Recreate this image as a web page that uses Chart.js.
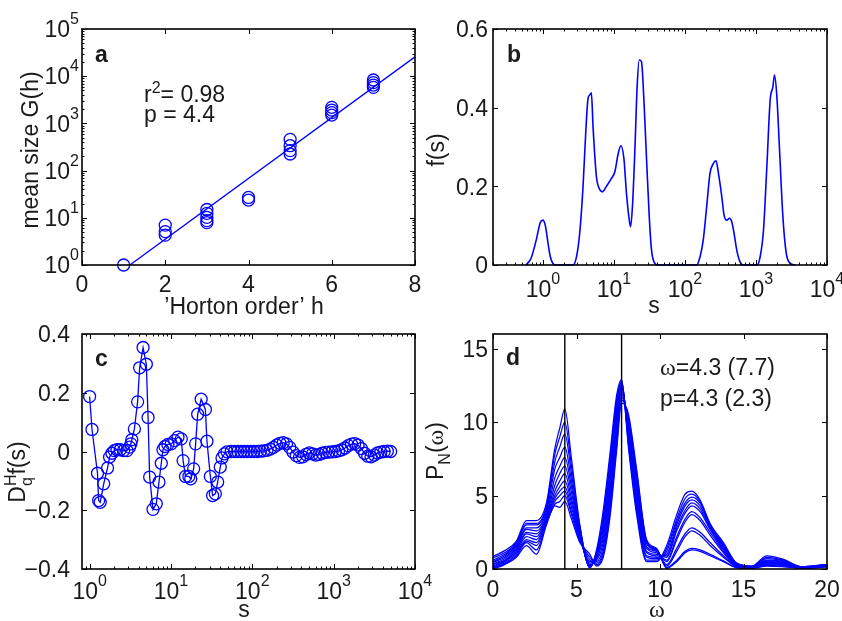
<!DOCTYPE html>
<html><head><meta charset="utf-8">
<script src="https://cdn.jsdelivr.net/npm/chart.js@4"></script>
<style>
html,body{margin:0;padding:0;background:#fff;}
.wrap{position:relative;width:842px;height:621px;overflow:hidden;}
canvas{position:absolute;left:0;top:0;}
</style>
</head><body>
<div class="wrap">
<canvas id="ca" width="842" height="621"></canvas>
<canvas id="cb" width="842" height="621"></canvas>
<canvas id="cc" width="842" height="621"></canvas>
<canvas id="cd" width="842" height="621"></canvas>
</div>
<script>
// ---------------- DATA ----------------
// Panel a: mean size G(h) vs Horton order h
const hOrder   = [1, 2,2,2, 3,3,3,3,3, 4,4, 5,5,5,5, 6,6,6,6, 7,7,7,7];
const meanSize = [1, 7.0,5.1,4.3, 15,12.4,10.2,8.7,7.9, 27,23.8, 459,337,265,225, 2190,1920,1690,1500, 8300,7300,6500,5800];
const fitH = [1.15, 8];
const fitG = [1, 25700];
const aXTicks = [0,2,4,6,8];
const aYTicks = [1,10,100,1000,10000,100000];
const aYExp   = ['0','1','2','3','4','5'];

// Panel b: f(s) vs s
const sB = [0.58,0.68,0.805,0.917,1.0,1.09,1.18,1.27,1.38,1.54,
  2.65,2.96,3.29,3.67,4.0,4.32,4.56,4.81,5.08,5.66,6.18,6.88,7.83,9.22,10.3,11.5,12.5,13.8,15.0,16.2,17.1,18.2,19.7,21.2,22.7,24.4,26.4,28.8,31.4,33.8,37.7,42.0,
  146,163,181,202,225,251,274,296,330,355,388,423,456,492,536,597,666,
  1028,1145,1276,1422,1585,1729,1824,1968,2147,2392,2667,3034,3573];
const fB = [0,0.017,0.064,0.108,0.114,0.097,0.055,0.021,0.004,0,
  0,0.02,0.08,0.2,0.335,0.424,0.432,0.438,0.35,0.225,0.195,0.186,0.2,0.22,0.237,0.284,0.303,0.271,0.182,0.123,0.097,0.148,0.292,0.453,0.521,0.517,0.42,0.267,0.123,0.038,0.004,0,
  0,0.021,0.064,0.148,0.233,0.258,0.265,0.233,0.174,0.127,0.114,0.119,0.11,0.08,0.038,0.008,0,
  0,0.021,0.089,0.25,0.42,0.453,0.483,0.428,0.292,0.123,0.03,0.004,0];
const bXTicks = [1,10,100,1000,10000];
const bXExp   = ['0','1','2','3','4'];
const bYTicks = [0,0.2,0.4,0.6];
const bYLabels = ['0','0.2','0.4','0.6'];

// Panel c: D_q^H f(s) vs s
const sC = [1,1.07,1.25,1.29,1.35,1.49,1.66,1.76,1.88,2.01,2.17,2.38,2.62,2.88,3.1,3.22,3.3,3.55,3.89,4.12,
  4.54,4.98,5.23,5.47,6.01,6.6,7.12,7.6,7.97,8.44,9.18,10.1,11.1,12.2,13.4,14.1,15.1,16.6,17.5,19.0,
  20.1,21.3,23.5,26.5,27.7,30.5,32.5,35.1,37.5,40.4,42.4,45.3,48.8,
  55.0,60.3,66.1,72.4,79.4,87.1,95.5,104.7,114.8,125.9,138.0,151.4,166.0,182.0,199.5,218.8,239.9,263.0,288.4,316.2,
  346.7,380.2,416.9,457.1,501.2,549.5,602.6,660.7,724.4,794.3,871.0,955.0,1047,1148,1259,1380,1514,1660,1820,1995,
  2188,2399,2630,2884,3162,3467,3802,4169,4571,5012];
const dC = [0.187,0.075,-0.074,-0.167,-0.173,-0.11,-0.056,-0.019,-0.006,0.003,0.006,0.006,0.003,0.003,0.015,0.026,0.04,0.077,0.169,0.285,
  0.354,0.297,0.116,-0.087,-0.197,-0.178,-0.104,-0.04,0.006,0.017,0.024,0.026,0.037,0.049,0.043,-0.031,-0.085,-0.085,-0.093,-0.059,
  0.026,0.127,0.178,0.143,0.035,-0.085,-0.15,-0.144,-0.104,-0.053,-0.022,-0.008,-0.001,
  0,0,0,0,0,0,0,0,0,0.001,0.002,0.004,0.008,0.014,0.022,0.028,0.03,0.026,0.014,-0.002,
  -0.014,-0.02,-0.018,-0.01,-0.005,-0.008,-0.012,-0.01,-0.006,-0.003,-0.002,-0.001,0,0.002,0.006,0.012,0.02,0.025,0.027,0.022,
  0.01,-0.006,-0.016,-0.018,-0.012,-0.005,-0.002,0,0.001,0];
const cXTicks = [1,10,100,1000,10000];
const cXExp   = ['0','1','2','3','4'];
const cYTicks = [-0.4,-0.2,0,0.2,0.4];
const cYLabels = ['\u22120.4','\u22120.2','0','0.2','0.4'];

// Panel d: P_N(omega) curves
const omega = [0,0.7,1.4,2.0,2.6,3.2,3.7,4.0,4.3,4.7,5.2,5.8,6.2,6.6,7.0,7.4,7.7,8.1,8.6,9.2,9.8,10.4,11.0,11.5,11.9,12.4,13.0,13.8,14.6,15.5,16.4,17.4,18.5,20];
const pN01 = [0.0,0.3,0.8,1.6,1.0,3.0,4.3,4.2,4.6,3.4,1.8,1.0,0.2,0.8,3.5,8.0,11.3,10.6,6.8,2.0,1.4,0.05,0.5,1.1,1.3,1.2,0.9,0.5,0.1,0.05,0.2,0.15,0.05,0.15];
const pN02 = [0.05,0.35,0.9,1.8,1.3,3.1,4.4,4.6,5.0,3.7,1.9,0.8,0.3,1.0,3.8,8.4,11.5,10.4,6.6,1.9,1.35,0.1,0.6,1.2,1.4,1.3,1.0,0.55,0.1,0.05,0.25,0.2,0.05,0.15];
const pN03 = [0.1,0.4,1.0,1.9,1.6,3.2,4.6,5.0,5.3,3.9,2.0,0.6,0.4,1.2,4.2,8.8,11.7,10.2,6.4,1.8,1.3,0.2,1.2,2.2,2.6,2.3,1.6,0.8,0.15,0.05,0.3,0.25,0.05,0.2];
const pN04 = [0.15,0.5,1.1,2.0,1.8,3.3,4.8,5.3,5.6,4.2,2.1,0.5,0.5,1.5,4.6,9.2,11.9,10.0,6.1,1.7,1.25,0.3,1.4,2.4,2.8,2.5,1.8,0.9,0.15,0.1,0.35,0.3,0.05,0.2];
const pN05 = [0.2,0.55,1.2,2.2,2.0,3.4,5.0,5.6,6.0,4.5,2.2,0.4,0.6,1.8,5.0,9.6,12.1,9.8,5.8,1.5,1.2,0.5,2.0,3.2,3.7,3.3,2.3,1.1,0.2,0.1,0.4,0.3,0.1,0.2];
const pN06 = [0.3,0.6,1.3,2.4,2.2,3.5,5.3,6.0,6.5,4.8,2.3,0.3,0.7,2.1,5.4,10.0,12.3,9.6,5.5,1.4,1.1,0.6,2.2,3.4,3.9,3.5,2.5,1.2,0.2,0.1,0.45,0.35,0.1,0.25];
const pN07 = [0.35,0.7,1.4,2.5,2.4,3.6,5.7,6.5,7.0,5.2,2.4,0.25,0.8,2.4,5.8,10.3,12.4,9.4,5.2,1.2,1.0,0.8,2.6,3.8,4.3,3.9,2.7,1.3,0.25,0.1,0.5,0.4,0.1,0.25];
const pN08 = [0.45,0.8,1.5,2.7,2.6,3.7,6.2,7.0,7.6,5.6,2.5,0.2,0.9,2.7,6.2,10.6,12.5,9.2,4.9,1.1,0.9,0.9,2.8,4.0,4.5,4.1,2.8,1.4,0.25,0.15,0.55,0.45,0.1,0.25];
const pN09 = [0.5,0.9,1.6,2.8,2.8,3.9,6.8,7.6,8.3,6.0,2.6,0.15,1.0,3.0,6.6,10.9,12.6,9.0,4.6,0.9,0.8,1.0,3.0,4.3,4.7,4.3,2.9,1.5,0.3,0.15,0.6,0.5,0.1,0.3];
const pN10 = [0.6,1.0,1.7,3.0,3.0,4.1,7.3,8.3,9.2,6.5,2.8,0.1,1.1,3.3,7.0,11.2,12.7,8.8,4.3,0.8,0.7,1.2,3.2,4.5,4.9,4.5,3.0,1.6,0.3,0.15,0.7,0.55,0.15,0.3];
const pN11 = [0.75,1.1,1.8,3.1,3.1,4.3,7.8,9.0,10.0,7.0,2.9,0.1,1.2,3.6,7.4,11.5,12.8,8.6,4.0,0.6,0.6,1.4,3.4,4.8,5.1,4.6,3.0,1.7,0.35,0.2,0.8,0.6,0.15,0.3];
const pN12 = [0.85,1.25,1.9,3.3,3.3,4.5,8.2,9.6,10.9,7.5,3.0,0.1,1.3,4.0,7.8,11.8,12.9,8.4,3.7,0.5,0.5,1.6,3.7,5.1,5.3,4.7,3.1,1.8,0.4,0.2,0.9,0.65,0.15,0.3];
const peakLines = [4.3, 7.7];
const dXTicks = [0,5,10,15,20];
const dYTicks = [0,5,10,15];

// ---------------- DRAW HELPERS ----------------
const SANS = '"Liberation Sans", Arial, Helvetica, sans-serif';
const SERIF = '"Liberation Serif", "Times New Roman", serif';
const BLUE = '#0000ff';
const TXT = '#1a1a1a';
function fnt(g){ return (g.b?'bold ':'') + (g.s||23) + 'px ' + (g.serif?SERIF:SANS); }
function drawRich(ctx, x, y, segs, align){
  const w = segs.map(g => { ctx.font = fnt(g); return ctx.measureText(g.t).width; });
  const adv = []; let pend = 0;
  segs.forEach((g,i) => { if (g.keep) { pend = w[i]; adv.push(0); } else { adv.push(Math.max(w[i], pend)); pend = 0; } });
  const total = adv.reduce((a,b)=>a+b,0) + pend;
  let cx = align==='center' ? x - total/2 : (align==='right' ? x - total : x);
  ctx.textAlign = 'left'; ctx.textBaseline = 'alphabetic';
  segs.forEach((g,i) => { ctx.font = fnt(g); ctx.fillText(g.t, cx, y + (g.dy||0)); cx += adv[i]; });
}
const expLab = e => [{t:'10'},{t:e, s:16, dy:-13}];
function logMinor(min, max){
  const out = [];
  for (let d = Math.floor(Math.log10(min)); d <= Math.ceil(Math.log10(max)); d++)
    for (let m = 2; m <= 9; m++) { const v = m*Math.pow(10,d); if (v > min && v < max) out.push(v); }
  return out;
}
const framePlugin = {
  id: 'frame',
  afterDraw(chart, args, o){
    const ctx = chart.ctx, a = chart.chartArea, xs = chart.scales.x, ys = chart.scales.y;
    ctx.save();
    ctx.strokeStyle = '#000'; ctx.lineWidth = 1;
    ctx.beginPath();
    const tx = (v, L) => { const p = Math.round(xs.getPixelForValue(v))+0.5; ctx.moveTo(p, a.bottom); ctx.lineTo(p, a.bottom-L); ctx.moveTo(p, a.top); ctx.lineTo(p, a.top+L); };
    const ty = (v, L) => { const p = Math.round(ys.getPixelForValue(v))+0.5; ctx.moveTo(a.left, p); ctx.lineTo(a.left+L, p); ctx.moveTo(a.right, p); ctx.lineTo(a.right-L, p); };
    o.xMajor.forEach(v => tx(v, 5)); (o.xMinor||[]).forEach(v => tx(v, 2.5));
    o.yMajor.forEach(v => ty(v, 5)); (o.yMinor||[]).forEach(v => ty(v, 2.5));
    ctx.stroke();
    ctx.lineWidth = 1.6;
    ctx.strokeRect(a.left, a.top, a.right-a.left, a.bottom-a.top);
    ctx.fillStyle = TXT;
    o.xLabels.forEach(L => drawRich(ctx, xs.getPixelForValue(L.v), o.xLabelY, L.segs, 'center'));
    o.yLabels.forEach(L => drawRich(ctx, o.yLabelX, ys.getPixelForValue(L.v) + 8.2, L.segs, 'right'));
    o.texts.forEach(T => {
      if (T.rot) { ctx.save(); ctx.translate(T.x, T.y); ctx.rotate(-Math.PI/2); drawRich(ctx, 0, 0, T.segs, 'center'); ctx.restore(); }
      else drawRich(ctx, T.x, T.y, T.segs, T.align||'left');
    });
    ctx.restore();
  }
};
Chart.register(framePlugin);
const pts = (xs, ys) => xs.map((x,i) => ({x, y: ys[i]}));
function baseOptions(pad, xScale, yScale, frame){
  return {
    responsive: false, animation: false, devicePixelRatio: 1,
    layout: { padding: pad },
    plugins: { legend: {display:false}, tooltip: {enabled:false}, title: {display:false}, frame },
    scales: { x: Object.assign({display:false}, xScale), y: Object.assign({display:false}, yScale) }
  };
}

// ---------------- PANEL A ----------------
new Chart(document.getElementById('ca'), {
  type: 'scatter',
  data: { datasets: [
    { data: pts(hOrder, meanSize), showLine:false, pointStyle:'circle', pointRadius:6, pointBorderWidth:1.3,
      pointBorderColor:BLUE, pointBackgroundColor:'rgba(0,0,0,0)', clip:false },
    { data: pts(fitH, fitG), showLine:true, borderColor:BLUE, borderWidth:1.3, pointRadius:0, fill:false }
  ]},
  options: baseOptions({left:82, top:29, right:427, bottom:356},
    {type:'linear', min:0, max:8}, {type:'logarithmic', min:1, max:100000},
    { xMajor: aXTicks, yMajor: aYTicks, yMinor: logMinor(1,100000),
      xLabels: aXTicks.map(v => ({v, segs:[{t:String(v)}]})), xLabelY: 292,
      yLabels: aYTicks.map((v,i) => ({v, segs: expLab(aYExp[i])})), yLabelX: 79,
      texts: [
        {x:95, y:62, segs:[{t:'a', b:true}]},
        {x:144, y:102, segs:[{t:'r'},{t:'2', s:16, dy:-9},{t:'= 0.98'}]},
        {x:144, y:122, segs:[{t:'p = 4.4'}]},
        {x:244, y:314, align:'center', segs:[{t:'\u2019Horton order\u2019 h'}]},
        {x:38, y:150, rot:true, segs:[{t:'mean size G(h)'}]}
      ]})
});

// ---------------- PANEL B ----------------
new Chart(document.getElementById('cb'), {
  type: 'line',
  data: { datasets: [
    { data: pts(sB, fB), borderColor:BLUE, borderWidth:1.6, pointRadius:0, fill:false, cubicInterpolationMode:'monotone', clip:false }
  ]},
  options: baseOptions({left:493, top:29, right:15, bottom:356},
    {type:'logarithmic', min:0.198, max:10000}, {type:'linear', min:0, max:0.6},
    { xMajor: bXTicks, xMinor: logMinor(0.198,10000), yMajor: bYTicks,
      xLabels: bXTicks.map((v,i) => ({v, segs: expLab(bXExp[i])})), xLabelY: 297,
      yLabels: bYTicks.map((v,i) => ({v, segs:[{t:bYLabels[i]}]})), yLabelX: 488,
      texts: [
        {x:507, y:62, segs:[{t:'b', b:true}]},
        {x:654, y:313, align:'center', segs:[{t:'s'}]},
        {x:444, y:150, rot:true, segs:[{t:'f(s)'}]}
      ]})
});

// ---------------- PANEL C ----------------
new Chart(document.getElementById('cc'), {
  type: 'line',
  data: { datasets: [
    { data: pts(sC, dC), borderColor:BLUE, borderWidth:1.3, pointStyle:'circle', pointRadius:6, pointBorderWidth:1.3,
      pointBorderColor:BLUE, pointBackgroundColor:'rgba(0,0,0,0)', fill:false, tension:0, clip:false }
  ]},
  options: baseOptions({left:82, top:334, right:427, bottom:52},
    {type:'logarithmic', min:0.806, max:10000}, {type:'linear', min:-0.4, max:0.4},
    { xMajor: cXTicks, xMinor: logMinor(0.806,10000), yMajor: cYTicks,
      xLabels: cXTicks.map((v,i) => ({v, segs: expLab(cXExp[i])})), xLabelY: 599,
      yLabels: cYTicks.map((v,i) => ({v, segs:[{t:cYLabels[i]}]})), yLabelX: 70,
      texts: [
        {x:95, y:366, segs:[{t:'c', b:true}]},
        {x:244, y:617, align:'center', segs:[{t:'s'}]},
        {x:25, y:472, rot:true, segs:[{t:'D'},{t:'H', s:16, dy:-9, keep:true},{t:'q', s:16, dy:7},{t:'f(s)'}]}
      ]})
});

// ---------------- PANEL D ----------------
const curves = [pN01,pN02,pN03,pN04,pN05,pN06,pN07,pN08,pN09,pN10,pN11,pN12];
const dSets = peakLines.map(w => ({ data: [{x:w, y:0},{x:w, y:16}], borderColor:'#000', borderWidth:1.4, pointRadius:0, tension:0, fill:false }));
curves.forEach(c => dSets.push({ data: pts(omega, c), borderColor:BLUE, borderWidth:1.25, pointRadius:0, fill:false, cubicInterpolationMode:'monotone' }));
new Chart(document.getElementById('cd'), {
  type: 'line',
  data: { datasets: dSets },
  options: baseOptions({left:493, top:334, right:15, bottom:52},
    {type:'linear', min:0, max:20}, {type:'linear', min:0, max:16},
    { xMajor: dXTicks, yMajor: dYTicks,
      xLabels: dXTicks.map(v => ({v, segs:[{t:String(v)}]})), xLabelY: 597,
      yLabels: dYTicks.map(v => ({v, segs:[{t:String(v)}]})), yLabelX: 488,
      texts: [
        {x:506, y:365, segs:[{t:'d', b:true}]},
        {x:660, y:375, segs:[{t:'\u03c9', serif:true, s:24},{t:'=4.3 (7.7)'}]},
        {x:660, y:406, segs:[{t:'p=4.3 (2.3)'}]},
        {x:657, y:617, align:'center', segs:[{t:'\u03c9', serif:true, s:24}]},
        {x:443, y:451, rot:true, segs:[{t:'P'},{t:'N', s:16, dy:7},{t:'('},{t:'\u03c9', serif:true, s:24},{t:')'}]}
      ]})
});
</script>
</body></html>
